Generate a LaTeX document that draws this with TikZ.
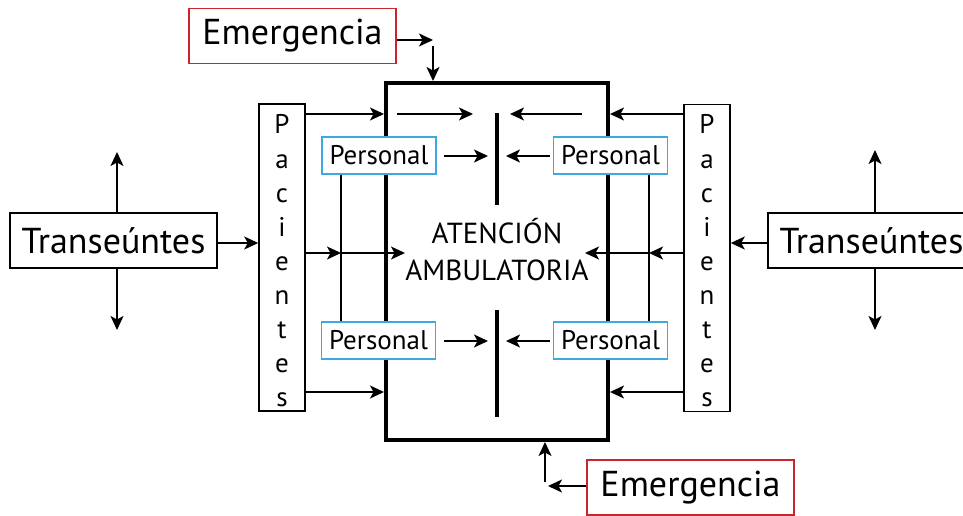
\documentclass[tikz,border=0pt]{standalone}
\usepackage{fontspec}
\setmainfont{PT Sans}
\usetikzlibrary{arrows.meta}
\definecolor{emred}{HTML}{C8262C}
\definecolor{perblue}{HTML}{3DA9E0}
\begin{document}
\begin{tikzpicture}[x=1pt,y=-1pt,
  arrowtip/.style={-{Stealth[length=14pt,width=13pt,inset=3.5pt]}},
  conn/.style={line width=1.5pt, arrowtip},
  plain/.style={line width=1.5pt},
  bar/.style={line width=4pt},
  redbox/.style={draw=emred, line width=1.6pt, fill=white, minimum width=207pt,
    minimum height=55pt, inner sep=0pt, font=\fontsize{36}{40}\selectfont},
  walkbox/.style={draw, line width=1.5pt, fill=white, minimum width=207pt,
    minimum height=55pt, inner sep=0pt, font=\fontsize{36}{40}\selectfont},
  staffbox/.style={draw=perblue, line width=1.5pt, fill=white, minimum width=114pt,
    minimum height=37pt, inner sep=0pt, font=\fontsize{27}{30}\selectfont},
  patbox/.style={draw, line width=1.5pt, minimum width=46pt, minimum height=307pt,
    inner sep=0pt},
  letter/.style={anchor=base, inner sep=0pt, font=\fontsize{27}{30}\selectfont}
]
\useasboundingbox (0,0) rectangle (963,516);
\clip (0,0) rectangle (963,516);

% central care area
\node[draw, line width=4pt, minimum width=222pt, minimum height=357pt, inner sep=0pt]
  (main) at (497,261.5) {};
\node[align=center, inner sep=0pt, font=\fontsize{29}{37}\selectfont]
  (care) at (497,249.5) {ATENCIÓN\\AMBULATORIA};

% internal partitions
\coordinate (barTa) at (497,113);
\coordinate (barTb) at (497,205);
\coordinate (barBa) at (497,310);
\coordinate (barBb) at (497,417);
\draw[bar] (barTa) -- (barTb);
\draw[bar] (barBa) -- (barBb);

% patient columns
\node[patbox] (pacL) at (282,257.5) {};
\node[patbox] (pacR) at (707,258) {};
\foreach \l [count=\i from 0] in {P,a,c,i,e,n,t,e,s} {
  \node[letter] (pl\i) at (282,{134+34*\i}) {\l};
  \node[letter] (pr\i) at (707,{134+34*\i}) {\l};
}

% passers-by
\node[walkbox] (trL) at (113.5,240.5) {Transeúntes};
\node[walkbox] (trR) at (871.5,240.5) {Transeúntes};
\coordinate (trLup) at (117,152);
\coordinate (trLdn) at (117,330);
\coordinate (trRup) at (875,150);
\coordinate (trRdn) at (875,330);
\draw[conn] (trL.north -| trLup) -- (trLup);
\draw[conn] (trL.south -| trLdn) -- (trLdn);
\draw[conn] (trR.north -| trRup) -- (trRup);
\draw[conn] (trR.south -| trRdn) -- (trRdn);
\coordinate (yTr) at (0,243);
\draw[conn] (trL.east |- yTr) -- (pacL.west |- yTr);
\draw[conn] (trR.west |- yTr) -- (pacR.east |- yTr);

% emergencies
\node[redbox] (emT) at (292.5,36) {Emergencia};
\node[redbox] (emB) at (690.5,487.5) {Emergencia};
\coordinate (emTc) at (433,40);
\coordinate (emTd) at (433,46);
\draw[conn] (emT.east |- emTc) -- (emTc);
\draw[conn] (emTd) -- (emTd |- main.north);
\coordinate (emBc) at (548,486);
\coordinate (emBu) at (545,482);
\draw[conn] (emB.west |- emBc) -- (emBc);
\draw[conn] (emBu) -- (emBu |- main.south);

% staff
\node[staffbox] (perTL) at (379,155.5) {Personal};
\node[staffbox] (perTR) at (610.5,155.5) {Personal};
\node[staffbox] (perBL) at (378.5,340.5) {Personal};
\node[staffbox] (perBR) at (610.5,340.5) {Personal};

% staff links
\coordinate (vL) at (341,0);
\coordinate (vR) at (649,0);
\draw[plain] (perTL.south -| vL) -- (perBL.north -| vL);
\draw[plain] (perTR.south -| vR) -- (perBR.north -| vR);

% top row
\coordinate (yTop) at (0,114);
\draw[conn] (pacL.east |- yTop) -- (main.west |- yTop);
\draw[conn] (pacR.west |- yTop) -- (main.east |- yTop);
\draw[conn] (397,114) -- (473,114);
\draw[conn] (582,114) -- (510,114);

% staff arrows towards partitions
\draw[conn] (444,156) -- (488,156);
\draw[conn] (550,156) -- (506,156);
\draw[conn] (444,341) -- (488,341);
\draw[conn] (550,341) -- (506,341);

% middle row
\coordinate (yMid) at (0,253);
\coordinate (mL) at (341,253);
\coordinate (mR) at (649,253);
\draw[conn] (pacL.east |- yMid) -- (mL);
\draw[conn] (mL) -- (405,253);
\draw[conn] (pacR.west |- yMid) -- (mR);
\draw[conn] (mR) -- (585,253);

% bottom row
\coordinate (yBot) at (0,392);
\draw[conn] (pacL.east |- yBot) -- (main.west |- yBot);
\draw[conn] (pacR.west |- yBot) -- (main.east |- yBot);
\end{tikzpicture}
\end{document}
